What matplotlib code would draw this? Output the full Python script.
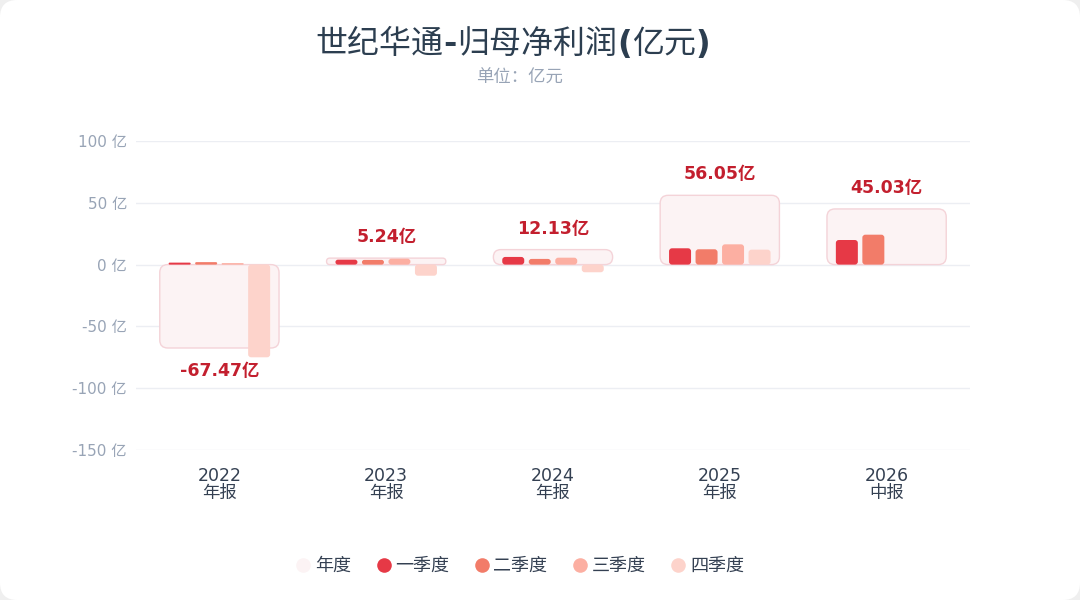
import matplotlib
matplotlib.use("Agg")
import matplotlib.pyplot as plt
from matplotlib.patches import FancyBboxPatch
from matplotlib.lines import Line2D
import numpy as np

plt.rcParams['font.family'] = ['DejaVu Sans', 'Noto Sans CJK SC']

# The data
periods = ['2022', '2023', '2024', '2025', '2026']
period_types = ['年报', '年报', '年报', '年报', '中报']
annual = [-67.47, 5.24, 12.13, 56.05, 45.03]
q1 = [1.6, 4.0, 6.2, 13.2, 19.9]
q2 = [2.0, 3.8, 4.6, 12.4, 24.2]
q3 = [1.2, 4.8, 5.6, 16.4, None]
q4 = [-75.0, -9.0, -6.2, 12.1, None]
yticks = [100, 50, 0, -50, -100, -150]

quarter_names = ['一季度', '二季度', '三季度', '四季度']
quarter_colors = ['#e63946', '#f27c69', '#fcafa2', '#fdd3cb']
annual_face = '#fcf3f4'
annual_edge = '#f4d3d8'
label_color = '#c31f2e'
tick_color = '#98a4b6'
text_color = '#2c3e50'

fig = plt.figure(figsize=(10.8, 6), dpi=100)
fig.patch.set_facecolor('#efefef')
card = FancyBboxPatch((0, 0), 1, 1, boxstyle='round,pad=0,rounding_size=0.016',
                      transform=fig.transFigure, facecolor='white', edgecolor='none',
                      mutation_aspect=1.8, zorder=-10)
fig.patches.append(card)

ax = fig.add_axes([136/1080, 1-450/600, 834/1080, 309/600])
ax.set_facecolor('none')
ax.set_xlim(-0.5, 4.5)
ax.set_ylim(-150, 100)

# screen scale, used to keep the rounded corners round
px_x = 834 / 5.0
px_y = 309 / 250.0
aspect = px_x / px_y

x = np.arange(len(periods))

def rounded_bar(xc, w, y0, y1, r_px, **kw):
    h = abs(y1 - y0)
    r = min(r_px / px_x, w / 2, (h * px_y / 2) / px_x)
    p = FancyBboxPatch((xc - w/2, min(y0, y1)), w, h,
                       boxstyle='round,pad=0,rounding_size=%f' % r,
                       mutation_aspect=aspect, **kw)
    ax.add_patch(p)

# annual boxes
for i, v in enumerate(annual):
    rounded_bar(x[i], 0.715, 0, v, 8, facecolor=annual_face, edgecolor=annual_edge,
                linewidth=1.0, zorder=2)
    dy = 21 if v >= 0 else -23
    ax.annotate('%.2f亿' % v, (x[i], v), xytext=(0, dy), textcoords='offset pixels',
                ha='center', va='center', fontsize=12.5, fontweight='bold',
                color=label_color, zorder=5)

# quarter bars
bw = 22 / px_x
offsets = np.array([-1.5, -0.5, 0.5, 1.5]) * (26.5 / px_x)
for qi, series in enumerate([q1, q2, q3, q4]):
    for i, v in enumerate(series):
        if v is None:
            continue
        rounded_bar(x[i] + offsets[qi], bw, 0, v, 3, facecolor=quarter_colors[qi],
                    edgecolor='none', zorder=3)

ax.set_yticks(yticks)
ax.set_yticklabels(['%d 亿' % t for t in yticks])
ax.set_xticks(x)
ax.set_xticklabels(['%s\n%s' % (p, t) for p, t in zip(periods, period_types)],
                   linespacing=0.95)
ax.tick_params(axis='y', length=0, pad=6.5, labelsize=11, labelcolor=tick_color)
ax.tick_params(axis='x', length=0, pad=12, labelsize=12.5, labelcolor='#344052')
ax.grid(axis='y', color='#eceef3', linewidth=1)
ax.set_axisbelow(True)
for s in ax.spines.values():
    s.set_visible(False)

# title: CJK regular, latin punctuation bold
title_parts = [('世纪华通', 'normal'), ('-', 'bold'), ('归母净利润', 'normal'),
               ('(', 'bold'), ('亿元', 'normal'), (')', 'bold')]
renderer = fig.canvas.get_renderer()
texts = []
for s, w in title_parts:
    t = fig.text(0, 1-53/600, s, ha='left', va='baseline', fontsize=23,
                 fontweight=w, color=text_color)
    texts.append(t)
widths = [t.get_window_extent(renderer).width for t in texts]
xpos = 513 - sum(widths) / 2
for t, w in zip(texts, widths):
    t.set_x(xpos / 1080)
    xpos += w

fig.text(519/1080, 1-78/600, '单位：亿元', ha='center', va='center', fontsize=12.5,
         color=tick_color)

handles = [Line2D([], [], marker='o', linestyle='none', markersize=10.5,
                  markerfacecolor=annual_face, markeredgecolor='none', label='年度')]
for c, n in zip(quarter_colors, quarter_names):
    handles.append(Line2D([], [], marker='o', linestyle='none', markersize=10.5,
                          markerfacecolor=c, markeredgecolor='none', label=n))
fig.legend(handles=handles, loc='center', bbox_to_anchor=(520/1080, 1-566/600), ncol=5,
           frameon=False, fontsize=13, handlelength=0.8, handletextpad=0.25,
           columnspacing=1.4, labelcolor='#344052')

fig.savefig('out.png', dpi=100, facecolor=fig.get_facecolor())
